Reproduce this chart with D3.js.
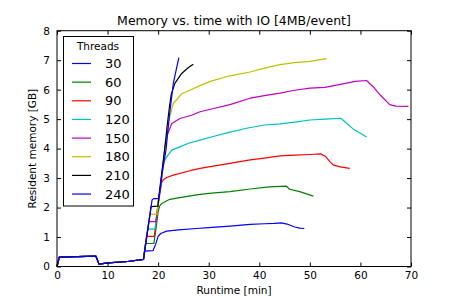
<!DOCTYPE html>
<html><head><meta charset="utf-8">
<script src="https://cdn.jsdelivr.net/npm/d3@7"></script>
<style>body{margin:0;background:#fff}svg{display:block}text{font-family:"DejaVu Sans",sans-serif}</style>
</head><body><svg id="c" width="457" height="305"></svg>
<script>
const threads = ["30","60","90","120","150","180","210","240"];
const colors = ["#0000ff","#008000","#ff0000","#00bfbf","#bf00bf","#bfbf00","#000000","#0000ff"];
const xTicks = [0,10,20,30,40,50,60,70];
const yTicks = [0,1,2,3,4,5,6,7,8];
const common = [[0,0],[0.45,0.32],[7.7,0.35],[8.3,0.08],[10.1,0.12],[14,0.17],[17.1,0.24]];
const s30 = [[17.35,0.52],[19.0,0.54],[19.5,0.75],[20.0,1.02],[20.5,1.12],[21.7,1.2],[24,1.24],[27.6,1.29],[30,1.32],[34.2,1.37],[38.2,1.43],[41,1.45],[43,1.46],[44.4,1.48],[45.5,1.44],[47,1.34],[48,1.3],[48.9,1.29]];
const s60 = [[17.5,0.78],[19.15,0.78],[19.6,1.3],[20.0,1.85],[20.3,2.05],[20.7,2.14],[22.3,2.28],[24,2.33],[27.6,2.43],[30,2.48],[34.2,2.54],[38.2,2.63],[42,2.7],[45.3,2.73],[46,2.62],[48,2.54],[50.7,2.39]];
const s90 = [[17.7,1.02],[19.25,1.02],[19.6,1.55],[20.0,2.1],[20.4,2.55],[20.7,2.85],[21.0,2.94],[21.7,3.02],[23,3.1],[26.3,3.25],[28.3,3.33],[30,3.38],[34.2,3.5],[38.2,3.62],[41,3.68],[44.1,3.75],[47,3.78],[50,3.8],[52.1,3.82],[53,3.75],[54,3.55],[54.6,3.45],[56,3.38],[57.9,3.33]];
const s120 = [[17.95,1.27],[19.4,1.27],[20.0,2.1],[20.5,2.7],[21.0,3.4],[21.3,3.6],[21.7,3.72],[22.7,3.95],[24.3,4.06],[26,4.18],[28.3,4.29],[30.9,4.41],[34,4.55],[37.5,4.69],[41,4.8],[44.1,4.84],[47,4.9],[50,4.97],[53,5.0],[56.1,5.03],[57,4.9],[58.6,4.66],[60,4.52],[61.2,4.39]];
const s150 = [[18.15,1.52],[19.55,1.52],[20.0,2.15],[20.5,2.8],[21.0,3.5],[21.4,4.1],[21.8,4.46],[22.7,4.85],[24.3,5.02],[26.6,5.13],[28.3,5.25],[31,5.36],[34.2,5.49],[38.2,5.71],[41,5.8],[44.1,5.88],[47,5.98],[50,6.05],[53,6.08],[56,6.18],[59,6.28],[61.2,6.31],[62.5,6.1],[64,5.8],[65.8,5.49],[67,5.44],[69.5,5.43]];
const s180 = [[18.4,1.77],[19.75,1.77],[20.1,2.3],[20.5,2.8],[21.0,3.5],[21.5,4.2],[22.0,4.8],[22.3,5.08],[23.0,5.53],[24.65,5.86],[26.3,5.98],[27.9,6.11],[30.3,6.28],[34.2,6.47],[38.2,6.6],[41,6.73],[44.1,6.85],[47,6.92],[50,6.96],[53.3,7.05]];
const s210 = [[18.6,2.03],[19.95,2.05],[20.3,2.6],[20.8,3.3],[21.3,4.0],[21.8,4.8],[22.3,5.5],[22.6,5.85],[23.3,6.21],[24.65,6.55],[26,6.75],[26.95,6.86]];
const s240 = [[18.8,2.26],[19.1,2.3],[20.1,2.3],[20.4,2.6],[20.8,3.2],[21.55,3.95],[22.2,5.08],[23.0,6.21],[23.6,6.7],[24.1,7.09]];
const series = [s30,s60,s90,s120,s150,s180,s210,s240];

const svg = d3.select("#c");
const L=57, R=411, T=30.7, B=266.5;
const x = d3.scaleLinear().domain([0,70]).range([L,R]);
const y = d3.scaleLinear().domain([0,8]).range([B,T]);

const line = d3.line().x(d=>x(d[0])).y(d=>y(d[1]));
series.forEach((s,i)=>{
  svg.append("path").datum(common.concat(s)).attr("d",line)
    .attr("fill","none").attr("stroke",colors[i]).attr("stroke-width",1.2).attr("stroke-linejoin","round");
});

const fs = "10.5px";
const gB = svg.append("g").attr("transform",`translate(0,${B})`)
  .call(d3.axisBottom(x).tickValues(xTicks).tickSize(-4).tickPadding(5).tickSizeOuter(0));
const gT = svg.append("g").attr("transform",`translate(0,${T})`)
  .call(d3.axisTop(x).tickValues(xTicks).tickSize(-4).tickFormat("").tickSizeOuter(0));
const gL = svg.append("g").attr("transform",`translate(${L},0)`)
  .call(d3.axisLeft(y).tickValues(yTicks).tickSize(-4).tickPadding(7).tickSizeOuter(0));
const gR = svg.append("g").attr("transform",`translate(${R},0)`)
  .call(d3.axisRight(y).tickValues(yTicks).tickSize(-4).tickFormat("").tickSizeOuter(0));
[gB,gT,gL,gR].forEach(g=>{
  g.select(".domain").remove();
  g.selectAll("line").attr("stroke","#000");
  g.selectAll("text").attr("fill","#000").style("font-size",fs).style("font-family","DejaVu Sans");
});
svg.append("rect").attr("x",L).attr("y",T).attr("width",R-L).attr("height",B-T)
  .attr("fill","none").attr("stroke","#000").attr("stroke-width",1);

svg.append("text").attr("x",(L+R)/2).attr("y",25).attr("text-anchor","middle")
  .style("font-size","12.5px").text("Memory vs. time with IO [4MB/event]");
svg.append("text").attr("x",(L+R)/2).attr("y",294).attr("text-anchor","middle")
  .style("font-size",fs).text("Runtime [min]");
svg.append("text").attr("transform",`translate(36,${(T+B)/2}) rotate(-90)`).attr("text-anchor","middle")
  .style("font-size",fs).text("Resident memory [GB]");

// legend
const lg = svg.append("g");
lg.append("rect").attr("x",63.5).attr("y",36.5).attr("width",70).attr("height",169.5)
  .attr("fill","#fff").attr("stroke","#000").attr("stroke-width",1);
lg.append("text").attr("x",98).attr("y",50).attr("text-anchor","middle").style("font-size","10.5px").text("Threads");
threads.forEach((t,i)=>{
  const yy = 63.5 + i*18.65;
  lg.append("line").attr("x1",72).attr("x2",91).attr("y1",yy).attr("y2",yy)
    .attr("stroke",colors[i]).attr("stroke-width",1.2);
  lg.append("text").attr("x",105).attr("y",yy).attr("dy","0.36em").style("font-size","13px").text(t);
});
</script></body></html>
